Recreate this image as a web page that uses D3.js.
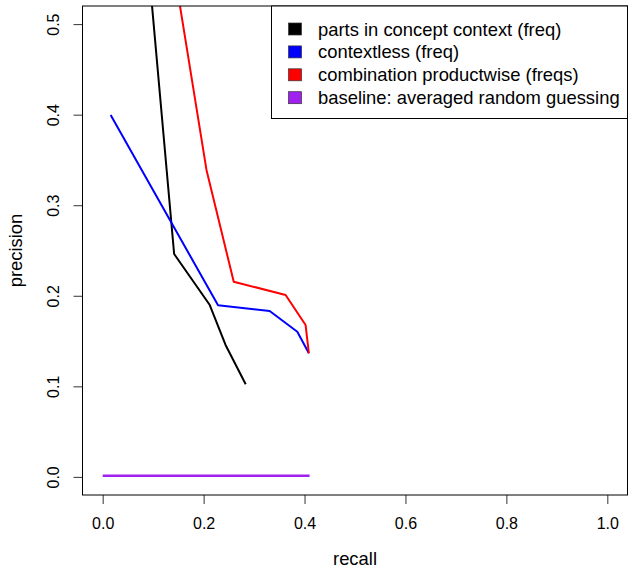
<!DOCTYPE html>
<html>
<head>
<meta charset="utf-8">
<script src="https://cdn.jsdelivr.net/npm/d3@7"></script>
<style>
  body { margin: 0; background: #fff; }
  svg { display: block; font-family: "Liberation Sans", Arial, sans-serif; }
</style>
</head>
<body>
<svg id="chart" width="628" height="570"></svg>
<script>
// recall / precision curves
const recallParts = [0.085, 0.1416, 0.2122, 0.2435, 0.2834];
const precisionParts = [0.6, 0.2461, 0.1898, 0.1457, 0.1023];

const recallContextless = [0.0158, 0.2286, 0.3309, 0.3857, 0.4086];
const precisionContextless = [0.3996, 0.1895, 0.1832, 0.1603, 0.1365];

const recallCombination = [0.13, 0.2057, 0.2597, 0.3625, 0.4021, 0.4086];
const precisionCombination = [0.6, 0.339, 0.2155, 0.2009, 0.1677, 0.1365];

const recallBaseline = [0, 0.41];
const precisionBaseline = [0.0013, 0.0013];

const seriesNames = [
    "parts in concept context (freq)",
    "contextless (freq)",
    "combination productwise (freqs)",
    "baseline: averaged random guessing"
];
const seriesColors = ["#000000", "#0000ff", "#ff0000", "#a020f0"];

const xTicks = [0, 0.2, 0.4, 0.6, 0.8, 1.0];
const yTicks = [0, 0.1, 0.2, 0.3, 0.4, 0.5];

const series = [
    {r: recallParts, p: precisionParts},
    {r: recallContextless, p: precisionContextless},
    {r: recallCombination, p: precisionCombination},
    {r: recallBaseline, p: precisionBaseline}
].map((s, i) => ({
    name: seriesNames[i],
    color: seriesColors[i],
    points: s.r.map((r, j) => [r, s.p[j]])
}));

// plot region (R style: 4% padding on both axes)
const plotLeft = 82.5, plotRight = 627.5, plotTop = 6, plotBottom = 495;

const x = d3.scaleLinear().domain([-0.04, 1.04]).range([plotLeft, plotRight]);
const y = d3.scaleLinear().domain([-0.02, 0.52]).range([plotBottom, plotTop]);

const svg = d3.select("#chart");

svg.append("defs").append("clipPath").attr("id", "plotclip")
    .append("rect")
    .attr("x", plotLeft).attr("y", plotTop)
    .attr("width", plotRight - plotLeft).attr("height", plotBottom - plotTop);

// lines
const line = d3.line().x(d => x(d[0])).y(d => y(d[1]));

svg.append("g")
    .attr("clip-path", "url(#plotclip)")
    .selectAll("path")
    .data(series)
    .join("path")
    .attr("d", d => line(d.points))
    .attr("fill", "none")
    .attr("stroke", d => d.color)
    .attr("stroke-width", (d, i) => i == 3 ? 2.5 : 2)
    .attr("stroke-linejoin", "round");

// x axis
const xAxis = svg.append("g")
    .attr("transform", `translate(0,${plotBottom})`)
    .call(d3.axisBottom(x).tickValues(xTicks).tickFormat(d3.format(".1f")).tickSize(9));
xAxis.select(".domain").remove();
xAxis.selectAll("line").attr("stroke", "#333");
xAxis.selectAll("text")
    .attr("y", 34.3).attr("dy", 0)
    .style("font-size", "16px")
    .attr("fill", "#000");

// y axis
const yAxis = svg.append("g")
    .attr("transform", `translate(${plotLeft},0)`)
    .call(d3.axisLeft(y).tickValues(yTicks).tickFormat(d3.format(".1f")).tickSize(9));
yAxis.select(".domain").remove();
yAxis.selectAll("line").attr("stroke", "#333");
yAxis.selectAll("text")
    .attr("x", 0).attr("dy", 0)
    .attr("transform", "translate(-23.2,0) rotate(-90)")
    .attr("text-anchor", "middle")
    .style("font-size", "16px")
    .attr("fill", "#000");

// box
svg.append("rect")
    .attr("x", plotLeft).attr("y", plotTop)
    .attr("width", plotRight - plotLeft).attr("height", plotBottom - plotTop)
    .attr("fill", "none")
    .attr("stroke", "#000")
    .attr("stroke-width", 1);

// axis titles
svg.append("text")
    .attr("x", (plotLeft + plotRight) / 2)
    .attr("y", 565)
    .attr("text-anchor", "middle")
    .style("font-size", "18.4px")
    .text("recall");

svg.append("text")
    .attr("transform", `translate(22,${(plotTop + plotBottom) / 2}) rotate(-90)`)
    .attr("text-anchor", "middle")
    .style("font-size", "18.4px")
    .text("precision");

// legend
const legend = svg.append("g");
legend.append("rect")
    .attr("x", 271.5).attr("y", plotTop)
    .attr("width", plotRight - 271.5).attr("height", 118.5 - plotTop)
    .attr("fill", "#fff")
    .attr("stroke", "#000")
    .attr("stroke-width", 1);

const rows = legend.selectAll("g.row")
    .data(series)
    .join("g")
    .attr("class", "row")
    .attr("transform", (d, i) => `translate(0,${29 + i * 22.9})`);

rows.append("rect")
    .attr("x", 288.5).attr("y", -6)
    .attr("width", 13).attr("height", 12)
    .attr("fill", d => d.color)
    .attr("stroke", "#333")
    .attr("stroke-width", 0.7);

rows.append("text")
    .attr("x", 318)
    .attr("y", 6.5)
    .style("font-size", "18.4px")
    .text(d => d.name);
</script>
</body>
</html>
